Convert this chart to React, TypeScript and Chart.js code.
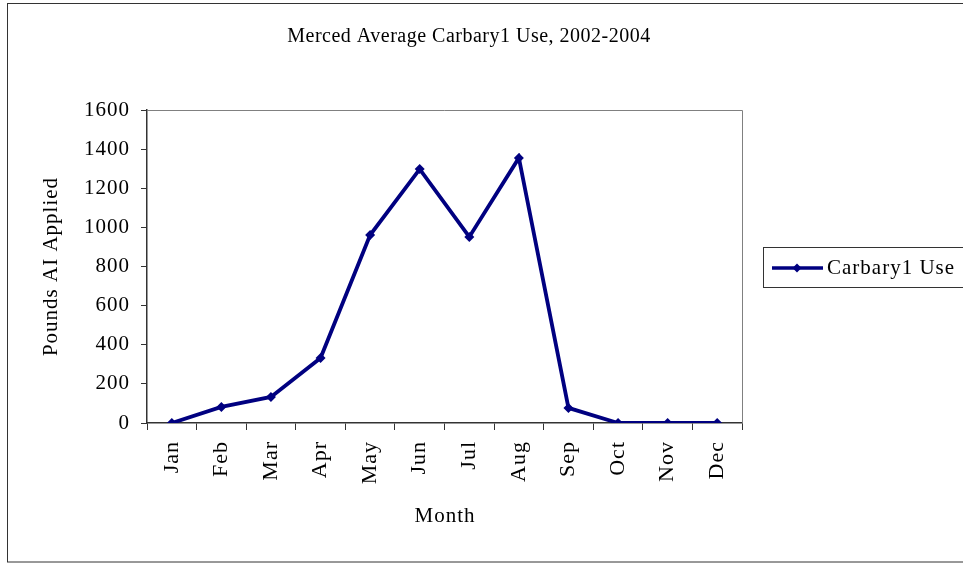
import React, { useEffect, useRef } from "react";
import { Chart, registerables } from "chart.js";

Chart.register(...registerables);

const months = ["Jan", "Feb", "Mar", "Apr", "May", "Jun", "Jul", "Aug", "Sep", "Oct", "Nov", "Dec"];
const carbarylUse = [0, 82, 133, 332, 961, 1298, 951, 1355, 77, 0, 0, 0];
const seriesName = "Carbary1 Use";
const chartTitle = "Merced Average Carbary1 Use, 2002-2004";
const xTitle = "Month";
const yTitle = "Pounds AI Applied";

const FONT = "'Liberation Serif', 'Times New Roman', serif";
const NAVY = "#000080";

const decorPlugin = {
  id: "decor",
  beforeDraw(chart: any) {
    (chart.ctx as any).letterSpacing = "1px";
  },
  afterDraw(chart: any) {
    const ctx = chart.ctx as CanvasRenderingContext2D;
    const a = chart.chartArea;
    ctx.save();
    ctx.strokeStyle = "#333";
    ctx.lineWidth = 1;
    ctx.strokeRect(7.5, 3.5, 970, 558.5);
    ctx.strokeStyle = "#808080";
    ctx.beginPath();
    ctx.moveTo(a.left, a.top + 0.5);
    ctx.lineTo(a.right + 0.5, a.top + 0.5);
    ctx.lineTo(a.right + 0.5, a.bottom);
    ctx.stroke();
    ctx.fillStyle = "#000";
    (ctx as any).letterSpacing = "0.5px";
    ctx.font = `20px ${FONT}`;
    ctx.textAlign = "center";
    ctx.textBaseline = "middle";
    ctx.fillText(chartTitle, 469, 37);
    (ctx as any).letterSpacing = "1px";
    ctx.font = `21px ${FONT}`;
    ctx.fillText(xTitle, 445, 516);
    ctx.save();
    ctx.translate(51, (a.top + a.bottom) / 2);
    ctx.rotate(-Math.PI / 2);
    ctx.fillText(yTitle, 0, 0);
    ctx.restore();
    ctx.strokeStyle = "#333";
    ctx.lineWidth = 1;
    ctx.strokeRect(763.5, 247.5, 220, 40);
    ctx.strokeStyle = NAVY;
    ctx.lineWidth = 3.5;
    ctx.beginPath();
    ctx.moveTo(772, 268);
    ctx.lineTo(823, 268);
    ctx.stroke();
    ctx.fillStyle = NAVY;
    ctx.beginPath();
    ctx.moveTo(797, 263.5);
    ctx.lineTo(801.5, 268);
    ctx.lineTo(797, 272.5);
    ctx.lineTo(792.5, 268);
    ctx.closePath();
    ctx.fill();
    ctx.fillStyle = "#000";
    ctx.textAlign = "left";
    ctx.fillText(seriesName, 827, 268);
    ctx.restore();
  },
};

export default function App() {
  const ref = useRef<HTMLCanvasElement>(null);
  useEffect(() => {
    document.body.style.margin = "0";
    const canvas = ref.current!;
    const chart = new Chart(canvas, {
      type: "line",
      data: {
        labels: months,
        datasets: [
          {
            label: seriesName,
            data: carbarylUse,
            borderColor: NAVY,
            backgroundColor: NAVY,
            borderWidth: 3.8,
            pointStyle: "rectRot",
            pointRadius: 5,
            pointBorderWidth: 0,
            tension: 0,
          },
        ],
      },
      options: {
        responsive: false,
        animation: false,
        devicePixelRatio: 1,
        layout: { padding: { left: 0, top: 110, right: 221, bottom: 0 } },
        plugins: { legend: { display: false }, title: { display: false }, tooltip: { enabled: false } },
        scales: {
          x: {
            type: "category",
            offset: true,
            afterFit: (s: any) => { s.height = 140; },
            grid: { offset: true, drawOnChartArea: false, drawTicks: true, tickLength: 7, color: "#333", tickWidth: 1 },
            border: { display: true, color: "#333", width: 1.5 },
            ticks: { minRotation: 90, maxRotation: 90, padding: 11, color: "#000", font: { family: FONT, size: 22 }, autoSkip: false },
          },
          y: {
            min: 0,
            max: 1600,
            afterFit: (s: any) => { s.width = 147; },
            grid: { drawOnChartArea: false, drawTicks: true, tickLength: 6, color: "#333" },
            border: { display: true, color: "#333", width: 1.5 },
            ticks: {
              stepSize: 200,
              padding: 11,
              color: "#000",
              font: { family: FONT, size: 21 },
              callback: (v: any) => String(v),
            },
          },
        },
      },
      plugins: [decorPlugin],
    });
    return () => chart.destroy();
  }, []);
  return <canvas ref={ref} width={963} height={563} style={{ display: "block" }} />;
}
